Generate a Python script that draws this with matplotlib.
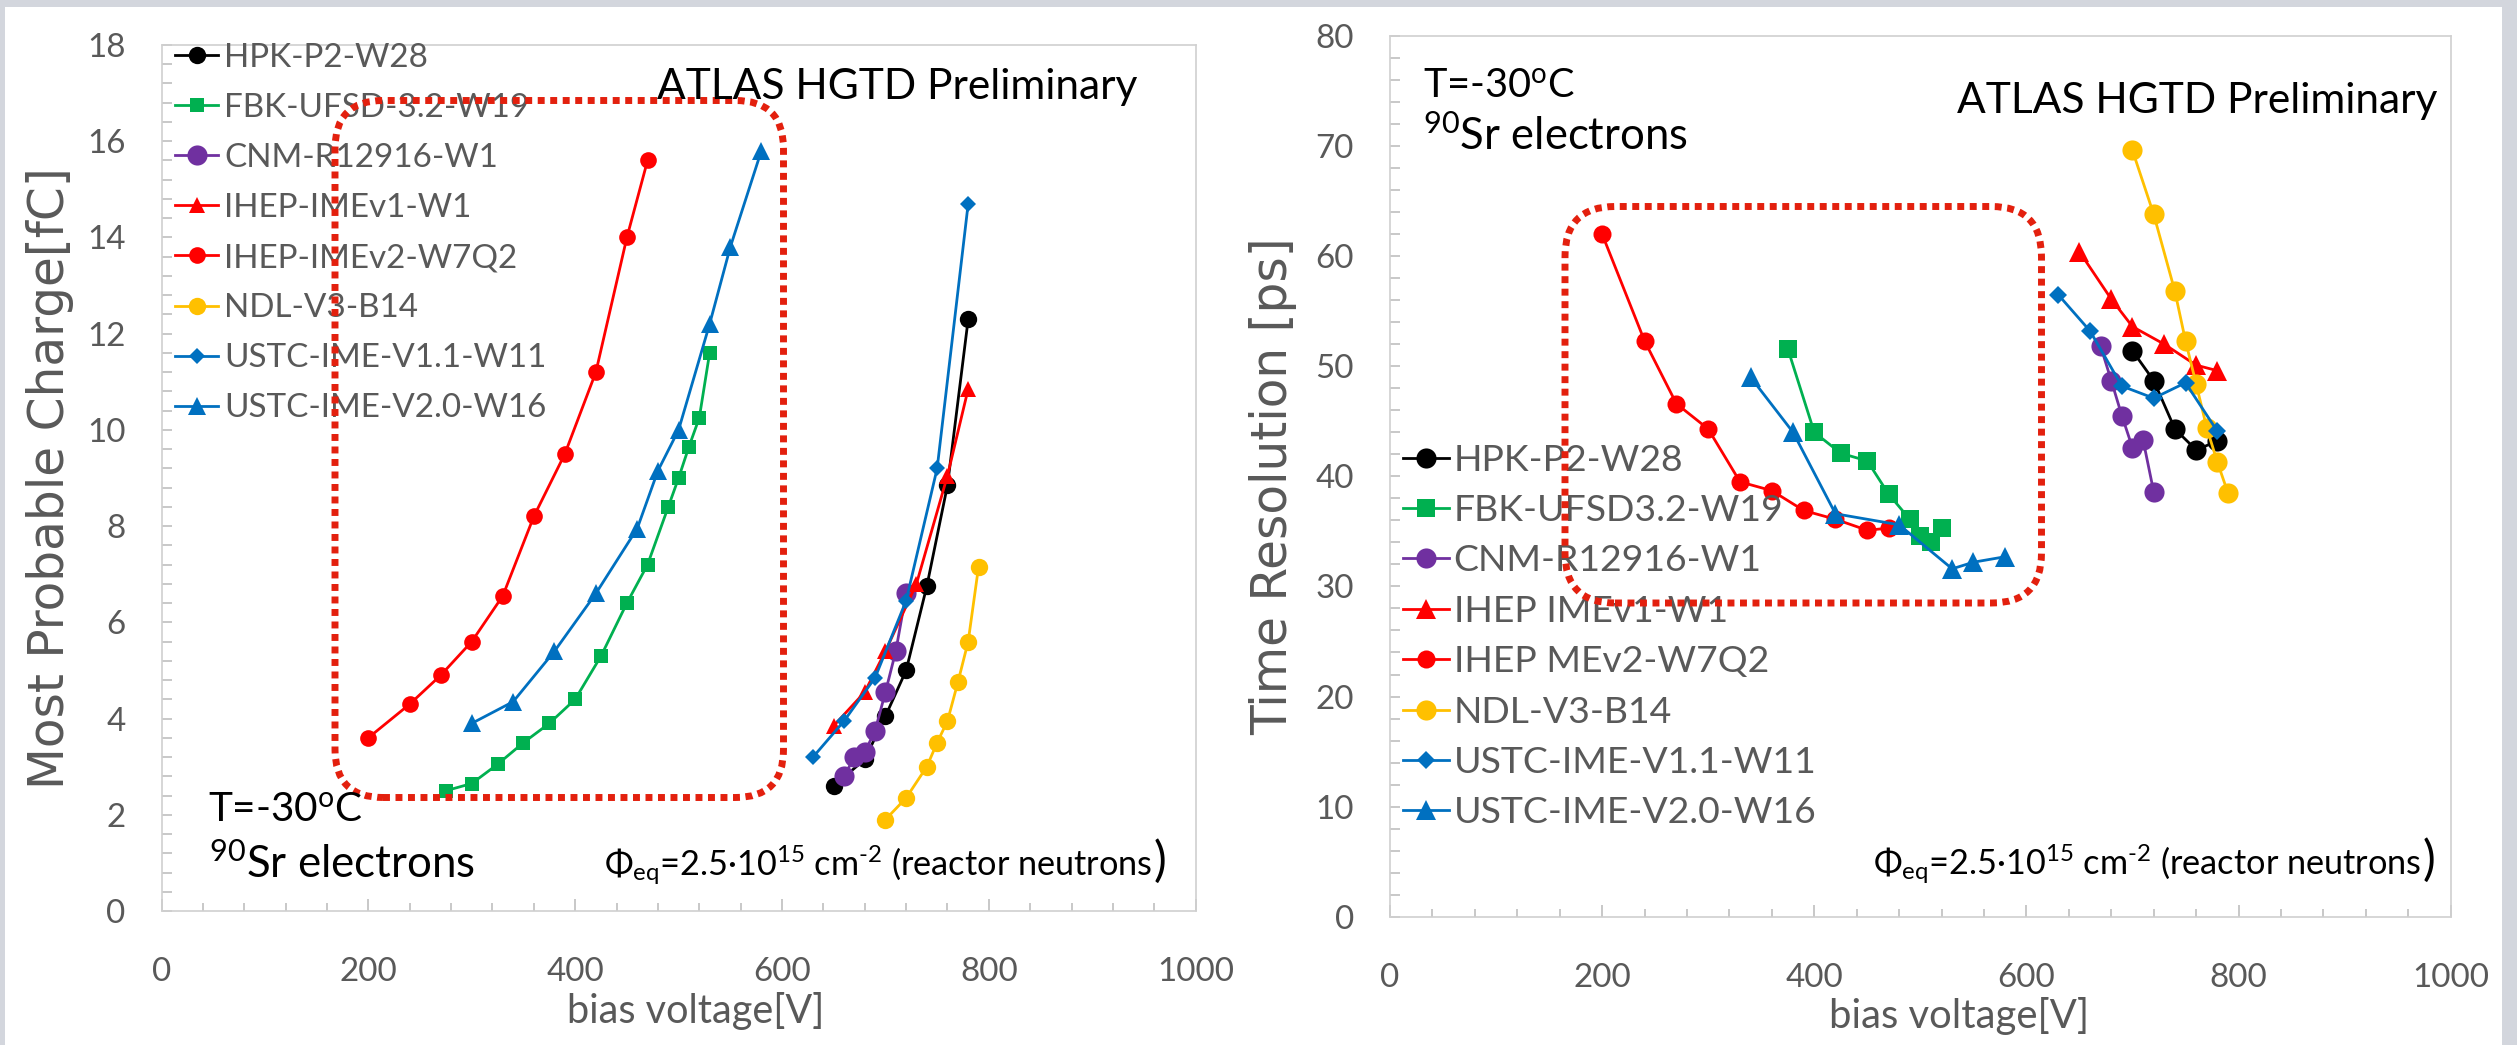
import matplotlib
matplotlib.use("Agg")
import matplotlib.pyplot as plt
from matplotlib.patches import FancyBboxPatch, Rectangle
from matplotlib.ticker import MultipleLocator

# ---------------- data: left panel (Most Probable Charge [fC]) ----------------
hpk_v_l = [650, 680, 700, 720, 740, 760, 780]
hpk_q = [2.6, 3.15, 4.05, 5.0, 6.75, 8.85, 12.3]
fbk_v_l = [275, 300, 325, 350, 375, 400, 425, 450, 470, 490, 500, 510, 520, 530]
fbk_q = [2.5, 2.65, 3.05, 3.5, 3.9, 4.4, 5.3, 6.4, 7.2, 8.4, 9.0, 9.65, 10.25, 11.6]
cnm_v_l = [660, 670, 680, 690, 700, 710, 720]
cnm_q = [2.8, 3.2, 3.3, 3.75, 4.55, 5.4, 6.6]
imev1_v_l = [650, 680, 700, 730, 760, 780]
imev1_q = [3.85, 4.55, 5.4, 6.8, 9.05, 10.85]
imev2_v_l = [200, 240, 270, 300, 330, 360, 390, 420, 450, 470]
imev2_q = [3.6, 4.3, 4.9, 5.6, 6.55, 8.2, 9.5, 11.2, 14.0, 15.6]
ndl_v_l = [700, 720, 740, 750, 760, 770, 780, 790]
ndl_q = [1.9, 2.35, 3.0, 3.5, 3.95, 4.75, 5.6, 7.15]
ustc11_v_l = [630, 660, 690, 720, 750, 780]
ustc11_q = [3.2, 3.95, 4.85, 6.45, 9.2, 14.7]
ustc20_v_l = [300, 340, 380, 420, 460, 480, 500, 530, 550, 580]
ustc20_q = [3.9, 4.35, 5.4, 6.6, 7.95, 9.15, 10.0, 12.2, 13.8, 15.8]

# ---------------- data: right panel (Time Resolution [ps]) ----------------
hpk_v_r = [700, 720, 740, 760, 780]
hpk_t = [51.4, 48.7, 44.3, 42.4, 43.2]
fbk_v_r = [375, 400, 425, 450, 470, 490, 500, 510, 520]
fbk_t = [51.6, 44.0, 42.1, 41.4, 38.4, 36.1, 34.6, 34.0, 35.3]
cnm_v_r = [670, 680, 690, 700, 710, 720]
cnm_t = [51.8, 48.7, 45.5, 42.6, 43.3, 38.6]
imev1_v_r = [650, 680, 700, 730, 760, 780]
imev1_t = [60.4, 56.1, 53.6, 52.0, 50.1, 49.6]
imev2_v_r = [200, 240, 270, 300, 330, 360, 390, 420, 450, 470]
imev2_t = [62.0, 52.3, 46.6, 44.3, 39.5, 38.7, 36.9, 36.1, 35.1, 35.3]
ndl_v_r = [700, 720, 740, 750, 760, 770, 780, 790]
ndl_t = [69.6, 63.8, 56.8, 52.3, 48.4, 44.4, 41.3, 38.5]
ustc11_v_r = [630, 660, 690, 720, 750, 780]
ustc11_t = [56.5, 53.2, 48.2, 47.1, 48.5, 44.1]
ustc20_v_r = [340, 380, 420, 480, 530, 550, 580]
ustc20_t = [49.0, 44.0, 36.6, 35.6, 31.6, 32.2, 32.7]

labels_left = ["HPK-P2-W28", "FBK-UFSD-3.2-W19", "CNM-R12916-W1", "IHEP-IMEv1-W1",
               "IHEP-IMEv2-W7Q2", "NDL-V3-B14", "USTC-IME-V1.1-W11", "USTC-IME-V2.0-W16"]
labels_right = ["HPK-P2-W28", "FBK-UFSD3.2-W19", "CNM-R12916-W1", "IHEP IMEv1-W1",
                "IHEP MEv2-W7Q2", "NDL-V3-B14", "USTC-IME-V1.1-W11", "USTC-IME-V2.0-W16"]
x_ticks = [0, 200, 400, 600, 800, 1000]

# ---------------- styles ----------------
colors = ["#000000", "#00b050", "#7030a0", "#ff0000", "#ff0000", "#ffc000", "#0070c0", "#0070c0"]
markers = ["o", "s", "o", "^", "o", "o", "D", "^"]
msize_l = [12.5, 10, 14.5, 12, 12, 12.5, 8, 13]
msize_r = [14.5, 13, 14.5, 15, 13, 14.5, 9.5, 14]

plt.rcParams["mathtext.fontset"] = "custom"
plt.rcParams["mathtext.rm"] = "Lato"
plt.rcParams["mathtext.it"] = "Lato:italic"
plt.rcParams["mathtext.bf"] = "Lato:bold"
plt.rcParams["font.family"] = ["Lato", "DejaVu Sans"]

W, H = 2517, 1045
fig = plt.figure(figsize=(W / 100, H / 100), dpi=100, facecolor="#d3d6dd")


def fx(px):
    return px / W


def fy(py):
    return 1 - py / H


fig.patches.append(Rectangle((fx(5), 0), fx(2502) - fx(5), fy(7), transform=fig.transFigure,
                             facecolor="white", edgecolor="none", zorder=-10))

fig.canvas.draw()
rend = fig.canvas.get_renderer()


def size_for(s, target, family="Lato", base=20.0):
    t = fig.text(0, 0, s, fontsize=base, family=family)
    w = t.get_window_extent(rend).width
    t.remove()
    return base * target / w


tick_fs = size_for("1000", 77)
GRAY = "#595959"

axL = fig.add_axes([fx(161.5), fy(911), (1195.7 - 161.5) / W, (911 - 45) / H])
axR = fig.add_axes([fx(1390), fy(916.7), (2450.7 - 1390) / W, (916.7 - 36) / H])


def style(ax, ymax, ymajor, yminor):
    ax.set_xlim(0, 1000)
    ax.set_ylim(0, ymax)
    ax.set_xticks(x_ticks)
    ax.xaxis.set_minor_locator(MultipleLocator(40))
    ax.yaxis.set_major_locator(MultipleLocator(ymajor))
    ax.yaxis.set_minor_locator(MultipleLocator(yminor))
    ax.tick_params(axis="both", which="both", direction="in", color="#bfbfbf", width=1.2,
                   labelcolor=GRAY, labelsize=tick_fs)
    ax.tick_params(axis="x", which="major", length=9, pad=33)
    ax.tick_params(axis="x", which="minor", length=6)
    ax.tick_params(axis="y", which="both", length=7, pad=26)
    for s in ax.spines.values():
        s.set_color("#d0d0d0")
        s.set_linewidth(1.2)
    ax.set_facecolor("white")


style(axL, 18, 2, 0.4)
style(axR, 80, 10, 2)

left_series = [(hpk_v_l, hpk_q), (fbk_v_l, fbk_q), (cnm_v_l, cnm_q), (imev1_v_l, imev1_q),
               (imev2_v_l, imev2_q), (ndl_v_l, ndl_q), (ustc11_v_l, ustc11_q), (ustc20_v_l, ustc20_q)]
right_series = [(hpk_v_r, hpk_t), (fbk_v_r, fbk_t), (cnm_v_r, cnm_t), (imev1_v_r, imev1_t),
                (imev2_v_r, imev2_t), (ndl_v_r, ndl_t), (ustc11_v_r, ustc11_t), (ustc20_v_r, ustc20_t)]

hL, hR = [], []
for i, (v, q) in enumerate(left_series):
    ln, = axL.plot(v, q, color=colors[i], marker=markers[i], markersize=msize_l[i],
                   linewidth=2.0, markeredgewidth=0, zorder=3 + i * 0.1)
    hL.append(ln)
for i, (v, t) in enumerate(right_series):
    ln, = axR.plot(v, t, color=colors[i], marker=markers[i], markersize=msize_r[i],
                   linewidth=2.0, markeredgewidth=0, zorder=3 + i * 0.1)
    hR.append(ln)


def make_legend(ax, handles, labels, widest, target_w, x_left, first_center, pitch, handle_px, gap_px):
    fs = size_for(widest, target_w)
    em = fs * 100 / 72.0
    text_h = 1.2 * em
    spacing = (pitch - text_h) / em
    top = first_center - text_h / 2
    leg = ax.legend(handles, labels, loc="upper left", bbox_to_anchor=(fx(x_left), fy(top)),
                    bbox_transform=fig.transFigure, frameon=False, fontsize=fs, labelcolor=GRAY,
                    handlelength=handle_px / em, handletextpad=gap_px / em, labelspacing=spacing,
                    borderpad=0, borderaxespad=0, numpoints=1)
    leg.set_zorder(5)
    return leg


make_legend(axL, hL, labels_left, "USTC-IME-V1.1-W11", 323, 175, 63, 60, 43, 6)
make_legend(axR, hR, labels_right, "USTC-IME-V1.1-W11", 362, 1402.7, 466, 62.2, 46, 5)


def dotted_box(ax, x0p, y0p, x1p, y1p, r_px):
    pos = ax.get_position()
    wpx, hpx = pos.width * W, pos.height * H
    ax0, ax1 = (x0p - pos.x0 * W) / wpx, (x1p - pos.x0 * W) / wpx
    ay0 = ((1 - pos.y0) * H - y1p) / hpx
    ay1 = ((1 - pos.y0) * H - y0p) / hpx
    p = FancyBboxPatch((ax0, ay0), ax1 - ax0, ay1 - ay0,
                       boxstyle=f"round,pad=0,rounding_size={r_px / wpx}",
                       mutation_aspect=wpx / hpx, transform=ax.transAxes, fill=False,
                       edgecolor="#e3200e", linewidth=5, linestyle=(0, (1, 0.8)),
                       zorder=8, clip_on=False)
    ax.add_patch(p)


dotted_box(axL, 335, 100.5, 783.5, 797.5, 48)
dotted_box(axR, 1565, 206.5, 2041.5, 603, 50)

# ---------------- texts ----------------
fig.canvas.draw()


def fit(t, target, use_height=False):
    bb = t.get_window_extent(rend)
    cur = bb.height if use_height else bb.width
    t.set_fontsize(t.get_fontsize() * target / cur)
    return t


ylL = fit(fig.text(fx(50), fy(478), "Most Probable Charge[fC]", rotation=90, ha="center",
                   va="center", family="DejaVu Sans", color=GRAY, fontsize=30), 623, True)
fig.text(fx(1273), fy(237), "Time Resolution [ps]", rotation=90, ha="center", va="top",
         family="DejaVu Sans", color=GRAY, fontsize=ylL.get_fontsize())

fit(fig.text(fx(695.6), fy(1011), "bias voltage[V]", ha="center", va="center", color=GRAY,
             fontsize=24), 258)
fit(fig.text(fx(1959.5), fy(1016), "bias voltage[V]", ha="center", va="center", color=GRAY,
             fontsize=24), 260)

fit(fig.text(fx(657), fy(98.6), "ATLAS HGTD Preliminary", ha="left", va="baseline",
             color="black", fontsize=30), 480)
fit(fig.text(fx(1957), fy(113), "ATLAS HGTD Preliminary", ha="left", va="baseline",
             color="black", fontsize=30), 481)

fit(fig.text(fx(208), fy(822), r"T=-30$^{\mathrm{o}}$C", ha="left", va="baseline",
             color="black", fontsize=30), 155)
fit(fig.text(fx(209), fy(878), r"$^{\mathrm{90}}$Sr electrons", ha="left", va="baseline",
             color="black", fontsize=30), 266)
fit(fig.text(fx(1423), fy(97.3), r"T=-30$^{\mathrm{o}}$C", ha="left", va="baseline",
             color="black", fontsize=30), 152)
fit(fig.text(fx(1423), fy(150), r"$^{\mathrm{90}}$Sr electrons", ha="left", va="baseline",
             color="black", fontsize=30), 265)


def fluence(x0, base_y, total_w):
    s = r"$\Phi_{\mathrm{eq}}$=2.5·10$^{\mathrm{15}}$ cm$^{\text{-2}}$ (reactor neutrons"
    t1 = fig.text(fx(x0), fy(base_y), s, ha="left", va="baseline", color="black", fontsize=20)
    t2 = fig.text(0, fy(base_y), ")", ha="left", va="baseline", color="black", fontsize=28)
    w1 = t1.get_window_extent(rend).width
    w2 = t2.get_window_extent(rend).width
    k = total_w / (w1 + w2)
    t1.set_fontsize(20 * k)
    t2.set_fontsize(28 * k)
    w1 = t1.get_window_extent(rend).width
    t2.set_x(fx(x0 + w1 + 1))


fluence(604, 876, 561)
fluence(1873, 875, 561)

fig.savefig("out.png", dpi=100, facecolor=fig.get_facecolor())
